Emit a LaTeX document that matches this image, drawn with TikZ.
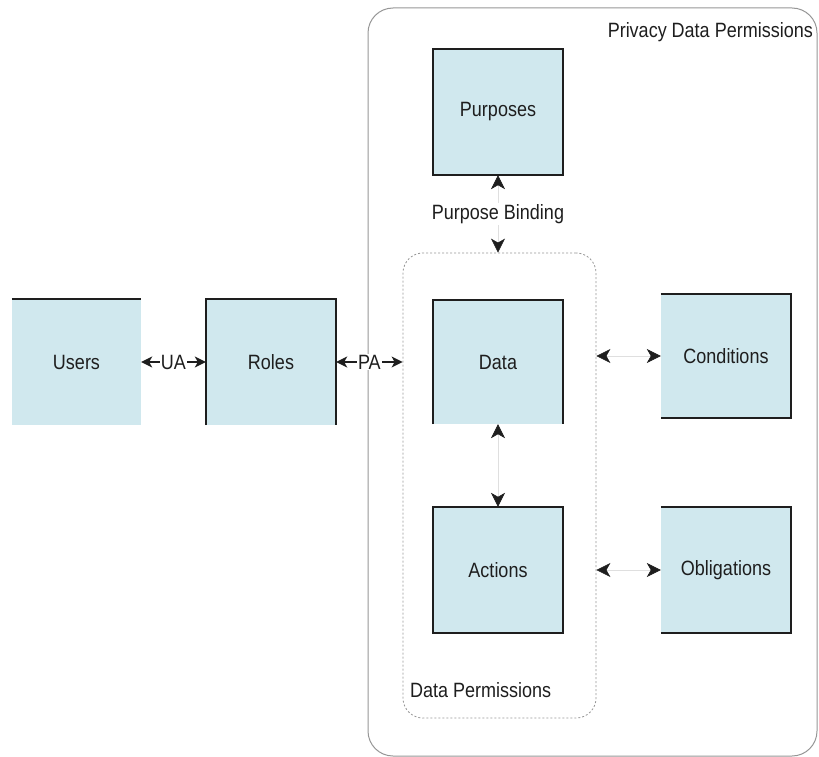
\documentclass[tikz,border=0pt]{standalone}
\usepackage{fontspec}
\setmainfont{Liberation Sans}
\usepackage{graphicx}
\usetikzlibrary{arrows.meta}
\definecolor{boxfill}{RGB}{208,232,238}
\definecolor{ink}{RGB}{30,30,30}
\definecolor{frame}{RGB}{150,150,150}
% slightly taller lettering
\newcommand{\tallertext}[1]{\scalebox{1}[1.15]{#1}}

\begin{document}
\begin{tikzpicture}[x=1pt,y=-1pt,
  block/.style={fill=boxfill, draw=none, minimum width=130pt, minimum height=126pt,
    inner sep=0pt, font=\fontsize{18}{20}\selectfont, text=ink},
  edge/.style={draw=ink, line width=1.6pt},
  lbl/.style={font=\fontsize{18}{20}\selectfont, text=ink, inner sep=0pt},
  link/.style={draw=gray!25, line width=0.6pt,
    arrows={Stealth[length=14pt,width=14pt,inset=4pt,color=ink]-Stealth[length=14pt,width=14pt,inset=4pt,color=ink]}},
  rel/.style={draw=ink, line width=1.3pt,
    arrows={Stealth[length=11pt,width=11pt,inset=3pt]-Stealth[length=11pt,width=11pt,inset=3pt]}}
]
\useasboundingbox (0,0) rectangle (819,757);

% group frames
\node[draw=frame, line width=1pt, rounded corners=25pt, minimum width=449pt,
      minimum height=748pt, inner sep=0pt] (pdp) at (592.5,382) {};
\node[draw=frame, dash pattern=on 2pt off 2pt, line width=0.8pt, rounded corners=20pt,
      minimum width=193pt, minimum height=465pt, inner sep=0pt] (dp) at (499.5,485.5) {};

% entities
\node[block, minimum width=129pt] (users) at (76.5,362) {\tallertext{Users}};
\node[block] (roles) at (271,362) {\tallertext{Roles}};
\node[block] (purposes) at (498,112) {\tallertext{Purposes}};
\node[block, minimum height=124pt] (data) at (498,362) {\tallertext{Data}};
\node[block] (actions) at (498,570) {\tallertext{Actions}};
\node[block, minimum height=124pt] (conditions) at (726,356) {\tallertext{Conditions}};
\node[block] (obligations) at (726,570) {\tallertext{Obligations}};

% box outlines
\draw[edge] (users.north west) -- (users.north east);
\draw[edge] (roles.south west) -- (roles.north west) -- (roles.north east) -- (roles.south east);
\draw[edge] (purposes.north west) rectangle (purposes.south east);
\draw[edge] (data.south west) -- (data.north west) -- (data.north east) -- (data.south east);
\draw[edge] (actions.north west) rectangle (actions.south east);
\draw[edge] (conditions.north west) -- (conditions.north east) -- (conditions.south east) -- (conditions.south west);
\draw[edge] (obligations.north west) -- (obligations.north east) -- (obligations.south east) -- (obligations.south west);

% group labels
\node[lbl, anchor=east] (pdplabel) at (813,32) {\tallertext{Privacy Data Permissions}};
\node[lbl, anchor=west] (dplabel) at (410,690) {\tallertext{Data Permissions}};

% assignments
\draw[rel] (users.east) -- node[lbl, fill=white, inner sep=1pt] (ua) {\tallertext{UA}} (roles.west);
\draw[rel] (roles.east) -- node[lbl, fill=white, inner sep=1pt] (pa) {\tallertext{PA}} (roles.east -| dp.west);

% bindings
\draw[link] (purposes.south) -- node[lbl, fill=white, inner sep=1pt] (pb) {\tallertext{Purpose Binding}} (purposes.south |- dp.north);
\draw[link] (data.south) -- (actions.north);
\draw[link] (conditions.west -| dp.east) -- (conditions.west);
\draw[link] (obligations.west -| dp.east) -- (obligations.west);
\end{tikzpicture}
\end{document}
